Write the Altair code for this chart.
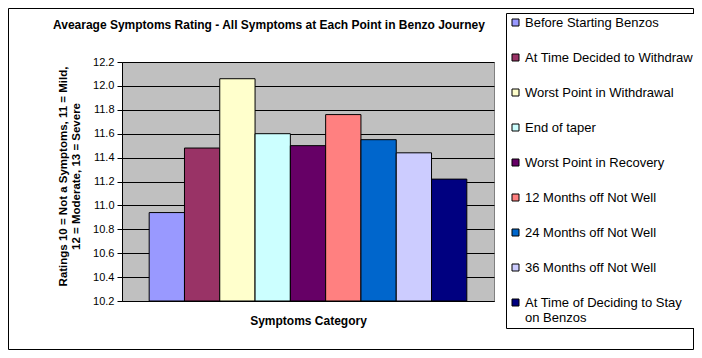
import altair as alt
import pandas as pd

categories = [
    "Before Starting Benzos",
    "At Time Decided to Withdraw",
    "Worst Point in Withdrawal",
    "End of taper",
    "Worst Point in Recovery",
    "12 Months off Not Well",
    "24 Months off Not Well",
    "36 Months off Not Well",
    "At Time of Deciding to Stay on Benzos",
]
ratings = [10.94, 11.48, 12.06, 11.60, 11.50, 11.76, 11.55, 11.44, 11.22]
colors = ["#9999FF", "#993366", "#FFFFCC", "#CCFFFF", "#660066",
          "#FF8080", "#0066CC", "#CCCCFF", "#000080"]
y_ticks = [10.2, 10.4, 10.6, 10.8, 11.0, 11.2, 11.4, 11.6, 11.8, 12.0, 12.2]
y_min, y_max = 10.2, 12.2

df = pd.DataFrame({"cat": categories, "val": ratings})
FONT = "Liberation Sans"

bars = alt.Chart(df).mark_bar(stroke="black", strokeWidth=1).encode(
    x=alt.X("cat:N", sort=categories,
            scale=alt.Scale(paddingInner=0, paddingOuter=0.77),
            axis=alt.Axis(labels=False, ticks=False, title="Symptoms Category",
                          domainColor="black", titleFont=FONT, titleFontSize=12,
                          titleFontWeight="bold", titlePadding=14, titleColor="black")),
    y=alt.Y("val:Q", scale=alt.Scale(domain=[y_min, y_max], nice=False, zero=False),
            axis=alt.Axis(values=y_ticks, format=".1f", grid=True, gridColor="black",
                          gridOpacity=1, tickColor="black", tickSize=5, domainColor="black",
                          labelFont=FONT, labelFontSize=11, labelColor="black", labelPadding=3,
                          title=["Ratings 10 = Not a Symptoms, 11 = Mild,",
                                 "12 = Moderate, 13 = Severe"],
                          titleFont=FONT, titleFontSize=11.5, titleFontWeight="bold",
                          titleColor="black", titlePadding=11, titleY=114)),
    y2=alt.Y2Datum(y_min),
    color=alt.Color("cat:N", sort=categories,
                    scale=alt.Scale(domain=categories, range=colors),
                    legend=alt.Legend(orient="none", legendX=384, legendY=-49, title=None,
                                      strokeColor="black", fillColor="white", padding=3,
                                      symbolType="square", symbolSize=49,
                                      symbolStrokeColor="black", symbolStrokeWidth=1,
                                      labelFont=FONT, labelFontSize=13, labelColor="black",
                                      labelOffset=3,
                                      rowPadding=21, labelLimit=300, symbolOpacity=1,
                                      labelExpr="datum.label == 'At Time of Deciding to Stay on Benzos' ? ['At Time of Deciding to Stay', 'on Benzos'] : datum.label")),
)

border_df = pd.DataFrame({"k": [0]})
border = alt.Chart(border_df).mark_rect(fill="transparent", stroke="black", strokeWidth=1).encode(
    x=alt.value(-113.5), x2=alt.value(571.5), y=alt.value(-53.5), y2=alt.value(287.5)
)

chart = alt.layer(bars, border).properties(
    width=372, height=239,
    background="white",
    autosize=alt.AutoSizeParams(type="none"),
    padding={"left": 114, "top": 54, "right": 200, "bottom": 49},
    title=alt.Title("Avearage Symptoms Rating - All Symptoms at Each Point in Benzo Journey",
                    font=FONT, fontSize=12, fontWeight="bold", anchor="start", dx=45,
                    offset=0, dy=24, color="black"),
).configure_view(fill="#C0C0C0", stroke="#808080")

chart.save("out.html", embed_options={"renderer": "svg", "actions": False})
